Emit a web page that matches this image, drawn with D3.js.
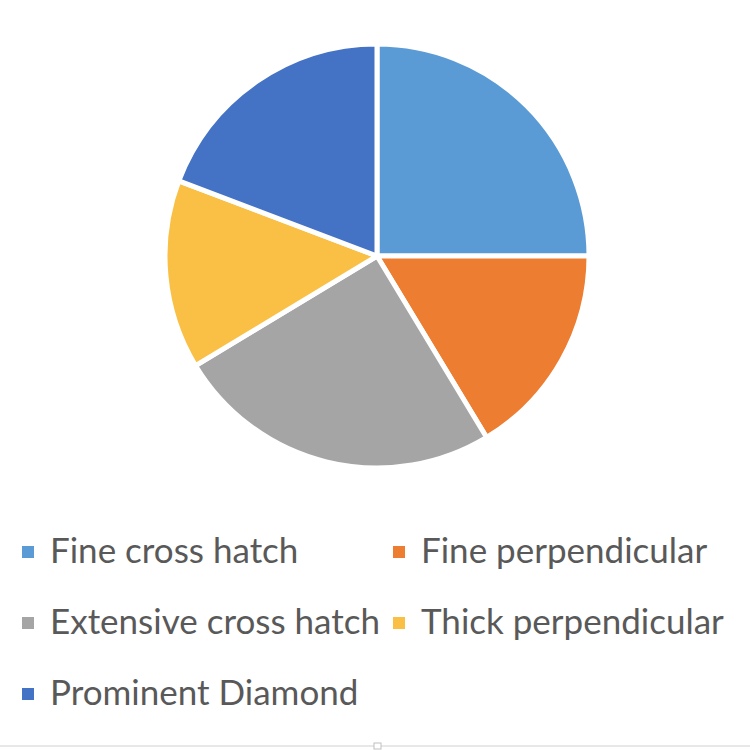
<!DOCTYPE html>
<html>
<head>
<meta charset="utf-8">
<script src="https://cdn.jsdelivr.net/npm/d3@7"></script>
<style>
  html, body { margin: 0; padding: 0; background: #ffffff; }
  svg { display: block; }
</style>
</head>
<body>
<svg id="chart" width="750" height="750"></svg>
<script>
// ---- data ----
const categories = ["Fine cross hatch", "Fine perpendicular", "Extensive cross hatch", "Thick perpendicular", "Prominent Diamond"];
const values = [26, 17, 26, 15, 20];
const colors = ["#5B9BD5", "#ED7D31", "#A5A5A5", "#F9C045", "#4472C4"];

const svg = d3.select("#chart");
const W = 750, H = 750;
const cx = 377, cy = 256, R = 212;

const data = categories.map((c, i) => ({ name: c, value: values[i], color: colors[i] }));

const pie = d3.pie().sort(null).value(d => d.value);
const arc = d3.arc().innerRadius(0).outerRadius(R);

const g = svg.append("g").attr("transform", `translate(${cx},${cy})`);
g.selectAll("path")
  .data(pie(data))
  .join("path")
  .attr("d", arc)
  .attr("fill", d => d.data.color)
  .attr("stroke", "#ffffff")
  .attr("stroke-width", 5)
  .attr("stroke-linejoin", "round");

// ---- legend ----
const colX = [22, 393];
const rowY = [563, 634, 705];
const legend = svg.append("g");
data.forEach((d, i) => {
  const col = i % 2, row = Math.floor(i / 2);
  const x = colX[col], y = rowY[row];
  legend.append("rect")
    .attr("x", x).attr("y", y - 17)
    .attr("width", 12).attr("height", 12)
    .attr("fill", d.color);
  legend.append("text")
    .attr("x", x + 28).attr("y", y)
    .attr("font-family", "Lato, 'Open Sans', sans-serif")
    .attr("font-size", 35)
    .attr("fill", "#595959")
    .text(d.name);
});

// ---- bottom frame edge ----
svg.append("line")
  .attr("x1", 0).attr("x2", W).attr("y1", 746).attr("y2", 746)
  .attr("stroke", "#D0D0D0").attr("stroke-width", 1);
svg.append("rect")
  .attr("x", 374).attr("y", 743).attr("width", 7).attr("height", 6)
  .attr("fill", "#ffffff").attr("stroke", "#C0C0C0").attr("stroke-width", 1);
</script>
</body>
</html>
